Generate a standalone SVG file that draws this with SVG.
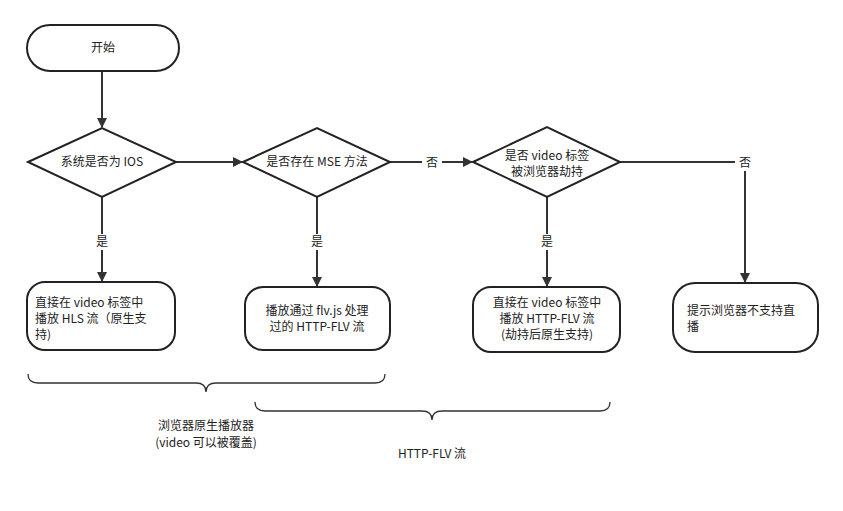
<svg xmlns="http://www.w3.org/2000/svg" width="843" height="511" viewBox="0 0 843 511">
<style>
.n{fill:#fff;stroke:#222;stroke-width:2}
text{font-family:"Noto Sans CJK SC","Liberation Sans",sans-serif;font-size:12px;fill:#222;text-anchor:middle}
.c{stroke:#333;stroke-width:2;fill:none}
.b{stroke:#333;stroke-width:1.3;fill:none}
</style>
<defs><marker id="a" markerWidth="10" markerHeight="10" refX="9" refY="5" orient="auto" markerUnits="userSpaceOnUse"><path d="M0,0L10,5L0,10z" fill="#333"/></marker></defs>
<rect width="843" height="511" fill="#fff"/>
<g id="connectors">
<path class="c" d="M102,71V127" marker-end="url(#a)"/>
<path class="c" d="M176,162H242" marker-end="url(#a)"/>
<path class="c" d="M390,162H472" marker-end="url(#a)"/>
<path class="c" d="M620,162H745V282" marker-end="url(#a)"/>
<path class="c" d="M102,197V281" marker-end="url(#a)"/>
<path class="c" d="M317,197V286" marker-end="url(#a)"/>
<path class="c" d="M547,197V286" marker-end="url(#a)"/>
<rect x="422" y="155" width="20" height="16" fill="#fff"/><text x="432" y="167">否</text>
<rect x="735" y="155" width="20" height="16" fill="#fff"/><text x="745" y="167">否</text>
<rect x="92" y="234" width="20" height="16" fill="#fff"/><text x="102" y="246">是</text>
<rect x="307" y="234" width="20" height="16" fill="#fff"/><text x="317" y="246">是</text>
<rect x="537" y="234" width="20" height="16" fill="#fff"/><text x="547" y="246">是</text>
</g>
<g id="start"><rect class="n" x="27" y="25" width="152" height="46" rx="23"/><text x="103" y="52">开始</text></g>
<g id="d1"><path class="n" d="M28,162L102,128L176,162L102,197z"/><text x="102" y="166">系统是否为 IOS</text></g>
<g id="d2"><path class="n" d="M243,162L317,128L390,162L317,197z"/><text x="317" y="166">是否存在 MSE 方法</text></g>
<g id="d3"><path class="n" d="M473,162L547,127L620,162L547,197z"/><text x="547" y="160">是否 video 标签</text><text x="547" y="176">被浏览器劫持</text></g>
<g id="b1"><rect class="n" x="27" y="282" width="148" height="68" rx="18"/><text x="35" y="307" style="text-anchor:start">直接在 video 标签中</text><text x="35" y="323" style="text-anchor:start">播放 HLS 流（原生支</text><text x="35" y="339" style="text-anchor:start">持)</text></g>
<g id="b2"><rect class="n" x="245" y="287" width="145" height="63" rx="18"/><text x="317" y="315">播放通过 flv.js 处理</text><text x="317" y="331">过的 HTTP-FLV 流</text></g>
<g id="b3"><rect class="n" x="473" y="287" width="147" height="65" rx="18"/><text x="547" y="307">直接在 video 标签中</text><text x="547" y="323">播放 HTTP-FLV 流</text><text x="547" y="339">(劫持后原生支持)</text></g>
<g id="b4"><rect class="n" x="673" y="283" width="145" height="69" rx="22"/><text x="687" y="315" style="text-anchor:start">提示浏览器不支持直</text><text x="687" y="331" style="text-anchor:start">播</text></g>
<g id="braces">
<path class="b" d="M28,374Q28,383 38,383H196Q206,383 206,392Q206,383 216,383H375Q385,383 385,374"/>
<path class="b" d="M255,402Q255,411 265,411H422Q432,411 432,420Q432,411 442,411H600Q610,411 610,402"/>
<text x="206" y="430">浏览器原生播放器</text><text x="206" y="447">(video 可以被覆盖)</text>
<text x="432" y="458">HTTP-FLV 流</text>
</g>
</svg>
